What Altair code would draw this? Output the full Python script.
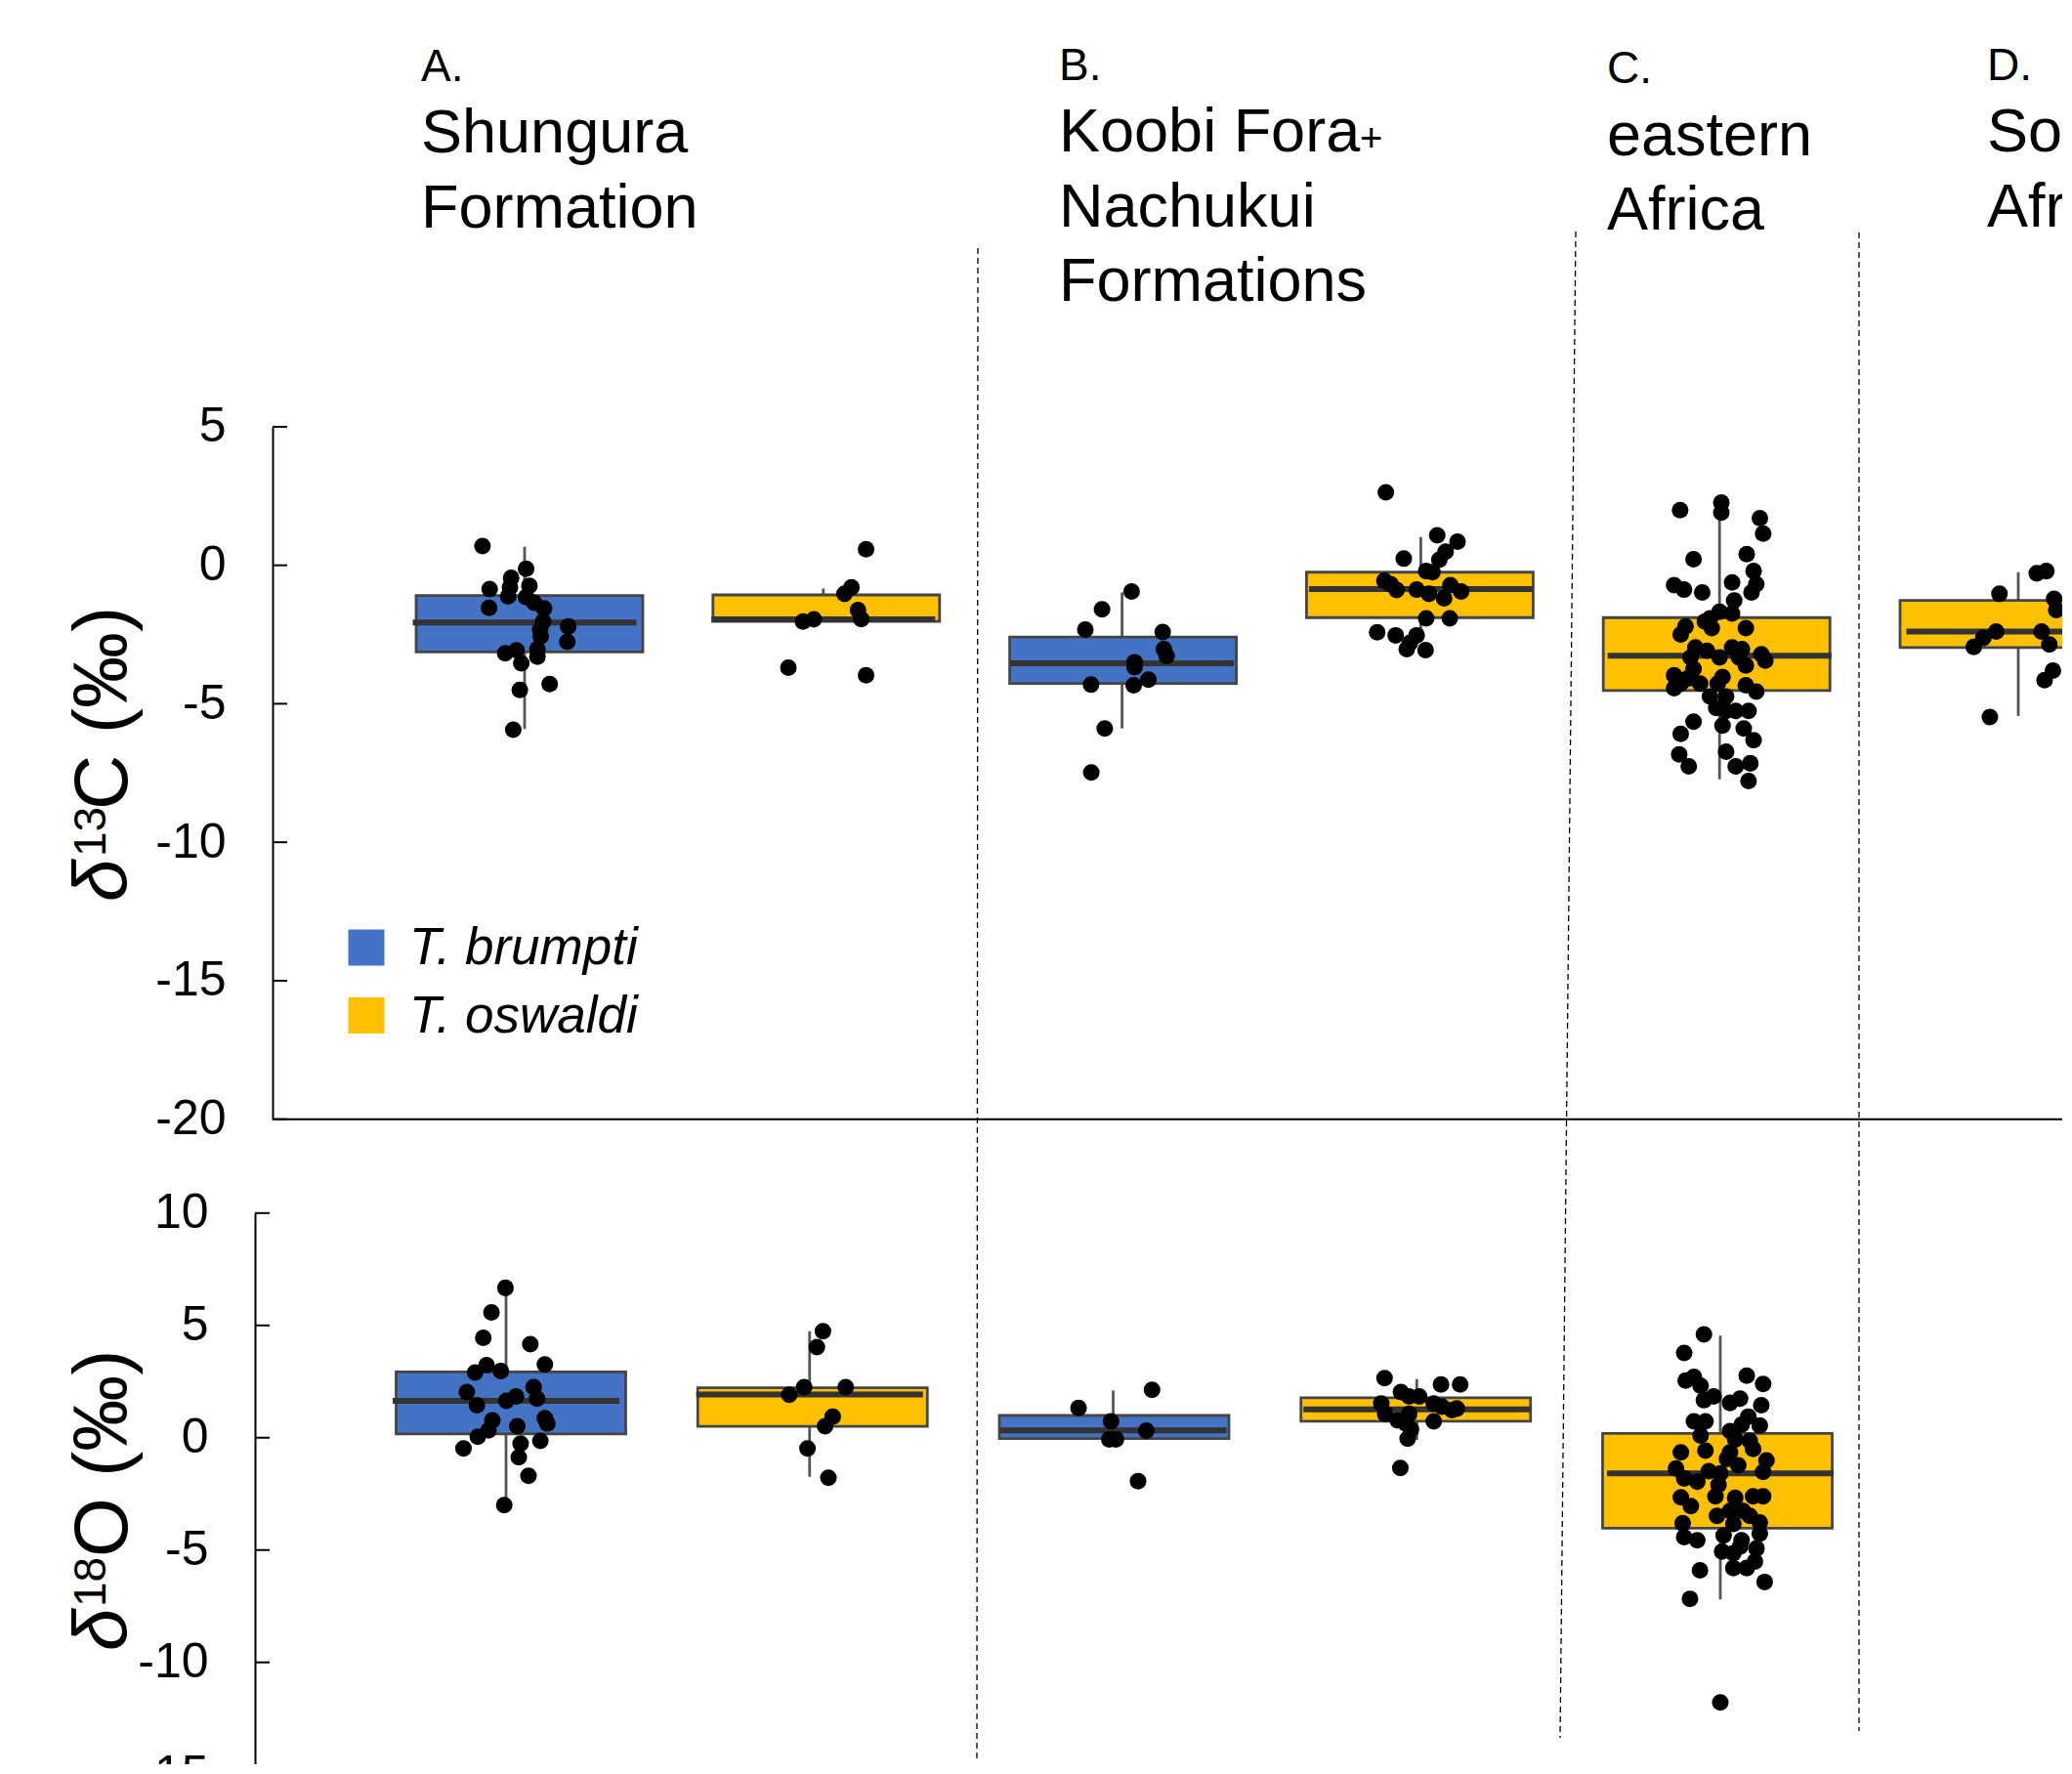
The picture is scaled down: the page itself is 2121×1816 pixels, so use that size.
import altair as alt
import pandas as pd

FONT = "Liberation Sans"
BLUE = "#4472C4"
GOLD = "#FFC000"
SPECIES = ["T. brumpti", "T. oswaldi"]

# ---------------- data ----------------
# group positions (panel order): A-brumpti, A-oswaldi, B-brumpti, B-oswaldi, C-oswaldi, D-oswaldi
GROUP_POS = [1, 2, 3, 4, 5, 6]
GROUP_SPECIES = ["T. brumpti", "T. oswaldi", "T. brumpti", "T. oswaldi", "T. oswaldi", "T. oswaldi"]

# delta13C box statistics
C13_Q1 = [-3.13, -2.03, -4.27, -1.89, -4.52, -2.97]
C13_MED = [-2.07, -1.95, -3.54, -0.86, -3.27, -2.39]
C13_Q3 = [-1.09, -1.07, -2.59, -0.25, -1.89, -1.27]
C13_LO = [-5.91, -2.03, -5.89, -2.60, -7.73, -5.44]
C13_HI = [0.67, -0.84, -0.98, 1.02, 2.32, -0.25]

# delta18O box statistics (groups 1..5)
O18_Q1 = [0.17, 0.51, -0.04, 0.73, -4.03]
O18_MED = [1.64, 1.93, 0.33, 1.26, -1.59]
O18_Q3 = [2.93, 2.22, 0.99, 1.78, 0.19]
O18_LO = [-3.00, -1.74, -0.04, -0.10, -7.20]
O18_HI = [6.67, 4.74, 2.10, 2.61, 4.54]

# individual specimens: values and horizontal jitter (fraction of group spacing)
C13_VALS = [
    [0.69, -0.13, -0.45, -0.74, -0.86, -0.80, -1.12, -1.15, -1.35, -1.56, -1.54, -2.03, -2.33, -2.56,
     -2.21, -2.76, -3.18, -3.07, -3.03, -3.30, -3.54, -4.29, -4.50, -5.94],
    [0.58, -0.80, -1.03, -1.62, -1.94, -2.03, -1.95, -3.70, -3.97],
    [-0.95, -1.59, -2.32, -2.41, -3.03, -3.27, -3.50, -3.68, -4.31, -4.33, -4.13, -5.89, -7.48],
    [2.63, 1.08, 0.85, 0.49, 0.20, 0.24, -0.21, -0.25, -0.56, -0.68, -0.89, -0.88, -1.03, -1.19,
     -0.72, -0.95, -1.92, -1.92, -2.42, -2.53, -2.53, -3.03, -3.06, -2.80],
    [1.99, 2.26, 1.90, 1.70, 1.14, 0.22, 0.40, -0.21, -0.72, -0.88, -0.98, -0.62, -0.68, -0.98,
     -1.27, -1.68, -1.74, -1.92, -2.21, -2.50, -2.27, -2.27, -2.97, -3.09, -2.97, -3.03, -3.21,
     -3.44, -3.33, -3.33, -3.62, -3.97, -4.09, -3.74, -4.03, -4.44, -4.27, -4.33, -4.56, -4.74,
     -4.74, -5.15, -5.26, -5.26, -5.65, -6.09, -5.79, -5.89, -6.32, -6.83, -7.26, -6.73, -7.26,
     -7.15, -7.79, -5.26, -2.03, -3.33, -4.27, -4.27],
    [-0.29, -0.21, -1.03, -1.21, -1.62, -2.39, -2.62, -2.95, -2.39, -2.86, -3.80, -4.15, -5.48],
]
C13_JIT = [
    [-0.141, 0.005, -0.045, 0.016, -0.117, -0.049, -0.055, 0.005, 0.032, 0.065, -0.119, 0.062, 0.052,
     0.054, 0.146, 0.143, -0.065, -0.027, 0.043, 0.043, -0.011, 0.084, -0.016, -0.038],
    [0.143, 0.094, 0.071, 0.116, 0.127, -0.068, -0.032, -0.117, 0.143],
    [0.032, -0.067, -0.123, 0.136, 0.140, 0.149, 0.042, 0.042, -0.104, 0.039, 0.088, -0.058, -0.103],
    [-0.117, 0.055, 0.123, 0.083, 0.062, -0.057, 0.018, 0.039, -0.122, -0.101, -0.081, -0.014, 0.027,
     0.078, 0.099, 0.135, 0.018, 0.097, -0.146, -0.084, -0.014, -0.047, 0.016, -0.036],
    [-0.132, 0.006, 0.006, 0.135, 0.146, -0.087, 0.091, 0.114, -0.152, -0.119, -0.058, 0.042, 0.123,
     0.107, 0.049, 0.0, 0.042, -0.032, -0.114, -0.130, -0.026, 0.088, -0.081, -0.042, 0.042, 0.075,
     0.140, 0.153, -0.097, 0.0, 0.088, -0.152, -0.107, -0.087, 0.010, -0.152, -0.006, 0.088, 0.123,
     -0.032, 0.022, -0.011, 0.054, 0.097, -0.087, -0.130, 0.010, 0.081, 0.114, -0.135, -0.103, 0.022,
     0.054, 0.103, 0.097, 0.022, -0.049, 0.065, -0.065, -0.130],
    [0.062, 0.094, -0.063, 0.120, 0.127, -0.074, -0.117, -0.149, 0.078, 0.104, 0.116, 0.088, -0.095],
]
O18_VALS = [
    [6.67, 5.58, 4.45, 4.16, 3.26, 3.23, 2.90, 2.97, 2.03, 2.25, 1.45, 1.64, 1.84, 1.74, 0.77, 0.87,
     0.63, 0.51, 0.33, 0.04, -0.48, -0.26, -0.14, -0.87, -1.70, -3.00],
    [4.74, 4.03, 2.25, 2.25, 1.91, 0.94, 0.51, -0.48, -1.78],
    [1.33, 2.13, 0.73, 0.32, -0.07, -0.07, -1.93],
    [2.65, 2.37, 2.37, 2.03, 1.84, 1.84, 1.52, 1.52, 1.38, 1.30, 1.23, 1.06, 1.06, 0.77, 0.73, 0.63,
     0.37, -0.04, -1.35],
    [4.60, 3.77, 2.54, 2.71, 2.32, 2.76, 2.39, 1.67, 1.84, 1.55, 1.74, 1.45, 0.73, 0.73, 0.94, 0.54,
     0.58, 0.10, 0.29, -0.07, -0.14, -0.65, -0.58, -0.65, -0.94, -0.50, -1.01, -1.37, -1.81, -1.96,
     -1.49, -1.59, -1.23, -1.52, -2.10, -2.65, -3.04, -2.61, -2.68, -2.61, -2.61, -3.48, -3.26, -3.48,
     -3.77, -3.81, -3.84, -4.42, -4.57, -4.35, -4.57, -4.27, -5.07, -5.14, -4.93, -5.80, -5.80, -5.51,
     -5.90, -6.42, -7.17, -11.78, -3.26, -4.85],
]
O18_JIT = [
    [-0.002, -0.048, -0.075, 0.080, 0.128, -0.064, -0.102, -0.017, -0.129, 0.091, -0.096, 0.001, 0.033,
     0.102, -0.045, 0.128, 0.136, 0.037, -0.058, -0.093, -0.140, 0.048, 0.113, 0.042, 0.074, -0.006],
    [0.044, 0.024, -0.018, 0.119, -0.067, 0.076, 0.051, -0.007, 0.062],
    [-0.114, 0.128, -0.007, 0.109, -0.013, 0.009, 0.082],
    [-0.106, 0.080, 0.143, -0.052, -0.025, 0.008, -0.117, 0.056, 0.083, 0.132, 0.116, -0.104, -0.025,
     -0.063, 0.056, -0.036, -0.019, -0.030, -0.054],
    [-0.054, -0.119, -0.114, -0.087, -0.065, 0.087, 0.141, -0.054, -0.022, 0.032, 0.065, 0.135, -0.087,
     -0.049, 0.092, 0.130, 0.070, -0.065, 0.032, 0.049, 0.097, -0.130, -0.049, 0.032, 0.022, 0.108,
     0.152, -0.146, -0.119, -0.076, -0.038, 0.0, 0.059, 0.141, -0.006, -0.130, -0.097, -0.016, 0.049,
     0.108, 0.141, -0.011, 0.032, 0.097, 0.130, -0.124, 0.043, -0.119, -0.076, 0.011, 0.070, 0.130,
     0.006, 0.043, 0.119, 0.043, 0.087, 0.114, -0.067, 0.146, -0.100, 0.0, 0.075, 0.065],
]

C13_TICKS = [5, 0, -5, -10, -15, -20]
O18_TICKS = [10, 5, 0, -5, -10, -15]

PANEL_LETTERS = ["A.", "B.", "C.", "D."]
PANEL_TITLES = [["Shungura", "Formation"], ["Koobi Fora", "Nachukui", "Formations"],
                ["eastern", "Africa"], ["South", "Africa"]]

# ---------------- tables ----------------
def box_table(q1, med, q3, lo, hi):
    n = len(q1)
    return pd.DataFrame({"pos": GROUP_POS[:n], "species": GROUP_SPECIES[:n],
                         "q1": q1, "med": med, "q3": q3, "lo": lo, "hi": hi})

def point_table(vals, jits):
    rows = []
    for pos, vs, js in zip(GROUP_POS, vals, jits):
        assert len(vs) == len(js), (pos, len(vs), len(js))
        for v, j in zip(vs, js):
            rows.append({"xpos": pos + j, "v": v})
    return pd.DataFrame(rows)

box13 = box_table(C13_Q1, C13_MED, C13_Q3, C13_LO, C13_HI)
box18 = box_table(O18_Q1, O18_MED, O18_Q3, O18_LO, O18_HI)
pts13 = point_table(C13_VALS, C13_JIT)
pts18 = point_table(O18_VALS, O18_JIT)
DUMMY = pd.DataFrame({"k": [0]})

# ---------------- layout ----------------
PAD_L = 271          # plot origin sits at page x = 279
PLOT_W = 1832
PLOT_H = 1798

TOP_X = alt.Scale(domain=[1, 6], range=[258, 1787], nice=False, zero=False)
TOP_Y = alt.Scale(domain=[-20, 5], range=[1137.7, 428.9], nice=False, zero=False)
BOT_X = alt.Scale(domain=[1, 6], range=[239, 1792.75], nice=False, zero=False)
BOT_Y = alt.Scale(domain=[-15, 10], range=[1808.7, 1233.8], nice=False, zero=False)
COLOR = alt.Scale(domain=SPECIES, range=[BLUE, GOLD])

LABEL_EXPR = "datum.value < 0 ? '-' + abs(datum.value) : '' + datum.value"

def y_axis(values, offset):
    return alt.Axis(orient="left", values=values, ticks=False, tickSize=0, domain=True,
                    domainColor="black", domainWidth=2, grid=False, title=None,
                    labelFont=FONT, labelFontSize=50, labelColor="black",
                    labelPadding=48, labelFlush=False, labelOverlap=False,
                    labelExpr=LABEL_EXPR, offset=offset)

def panel_layers(box, pts, xs, ys, box_w, tick_vals, tick_x0, axis_offset):
    x_box = alt.X("pos:Q", scale=xs, axis=None)
    whisk = alt.Chart(box).mark_rule(color="#555555", strokeWidth=2.8).encode(
        x=x_box, y=alt.Y("lo:Q", scale=ys, axis=None), y2="hi:Q")
    bars = alt.Chart(box).mark_bar(size=box_w, stroke="#454545", strokeWidth=2.8, opacity=1).encode(
        x=x_box, y=alt.Y("q1:Q", scale=ys, axis=None), y2="q3:Q",
        color=alt.Color("species:N", scale=COLOR, legend=None))
    med = alt.Chart(box).mark_tick(orient="horizontal", size=box_w - 3, thickness=6,
                                   color="#333333", opacity=1).encode(
        x=x_box, y=alt.Y("med:Q", scale=ys, axis=None))
    dots = alt.Chart(pts).mark_circle(size=290, color="black", opacity=1).encode(
        x=alt.X("xpos:Q", scale=xs, axis=None), y=alt.Y("v:Q", scale=ys, axis=None))
    ticks = alt.Chart(pd.DataFrame({"v": tick_vals})).mark_rule(color="black", strokeWidth=2).encode(
        x=alt.value(tick_x0), x2=alt.value(tick_x0 + 15),
        y=alt.Y("v:Q", scale=ys, axis=y_axis(tick_vals, axis_offset)))
    return [ticks, whisk, bars, med, dots]

def text_layer(s, x_page, y_page, size, style="normal", angle=0):
    return alt.Chart(DUMMY).mark_text(
        align="left", baseline="alphabetic", font=FONT, fontSize=size, fontStyle=style,
        color="black", angle=angle).encode(
        x=alt.value(x_page - 279), y=alt.value(y_page - 8), text=alt.value(s))

def divider(x0, y0, x1, y1):
    return alt.Chart(DUMMY).mark_rule(color="black", strokeWidth=1.3, strokeDash=[6, 4]).encode(
        x=alt.value(x0 - 279), y=alt.value(y0 - 8), x2=alt.value(x1 - 279), y2=alt.value(y1 - 8))

layers = []
# dashed separators between regions
layers += [divider(1001, 254, 1000, 1800), divider(1613, 237, 1597, 1779), divider(1903, 238, 1903, 1772)]
# x-axis line of the upper panel
layers.append(alt.Chart(pd.DataFrame({"v": [-20]})).mark_rule(color="black", strokeWidth=2).encode(
    y=alt.Y("v:Q", scale=TOP_Y, axis=None), x=alt.value(0), x2=alt.value(PLOT_W)))
layers += panel_layers(box13, pts13, TOP_X, TOP_Y, 232, C13_TICKS, 0, 0)
layers += panel_layers(box18, pts18, BOT_X, BOT_Y, 235, O18_TICKS, -18, 18)

# panel headings
HEAD_X = [431, 1084, 1645, 2034]
LETTER_Y = [83, 82, 85, 82]
LINE_Y = [[156, 233], [155, 232, 308], [159, 235], [155, 232]]
for i, letter in enumerate(PANEL_LETTERS):
    layers.append(text_layer(letter, HEAD_X[i], LETTER_Y[i], 46))
    for line, yy in zip(PANEL_TITLES[i], LINE_Y[i]):
        layers.append(text_layer(line, HEAD_X[i], yy, 63))
# the small "+" joining Koobi Fora and Nachukui
layers.append(text_layer("+", 1392, 155, 40))

# y-axis titles (rotated)
layers += [
    text_layer("δ", 130, 923, 78, "italic", 270),
    text_layer("13", 108, 877, 46, "normal", 270),
    text_layer("C (‰)", 130, 829, 78, "normal", 270),
    text_layer("δ", 130, 1690, 78, "italic", 270),
    text_layer("18", 108, 1645, 46, "normal", 270),
    text_layer("O (‰)", 130, 1594, 78, "normal", 270),
]

# legend
LEG_Y = [970, 1039.5]
LEG_TXT_Y = [986.5, 1057]
for sp, col, yy, ty in zip(SPECIES, [BLUE, GOLD], LEG_Y, LEG_TXT_Y):
    layers.append(alt.Chart(DUMMY).mark_square(size=1369, opacity=1, strokeWidth=0).encode(
        x=alt.value(375 - 279), y=alt.value(yy - 8), color=alt.value(col)))
    layers.append(text_layer(sp, 419, ty, 53, "italic"))

chart = alt.layer(*layers).resolve_scale(
    x="independent", y="independent", color="independent"
).properties(
    width=PLOT_W, height=PLOT_H,
    autosize=alt.AutoSizeParams(type="none"),
    padding={"left": PAD_L, "top": 0, "right": 0, "bottom": 0},
).configure(background="white", view=alt.ViewConfig(strokeWidth=0, stroke=None))

chart.save("out.html", embed_options={"renderer": "svg", "actions": False})
